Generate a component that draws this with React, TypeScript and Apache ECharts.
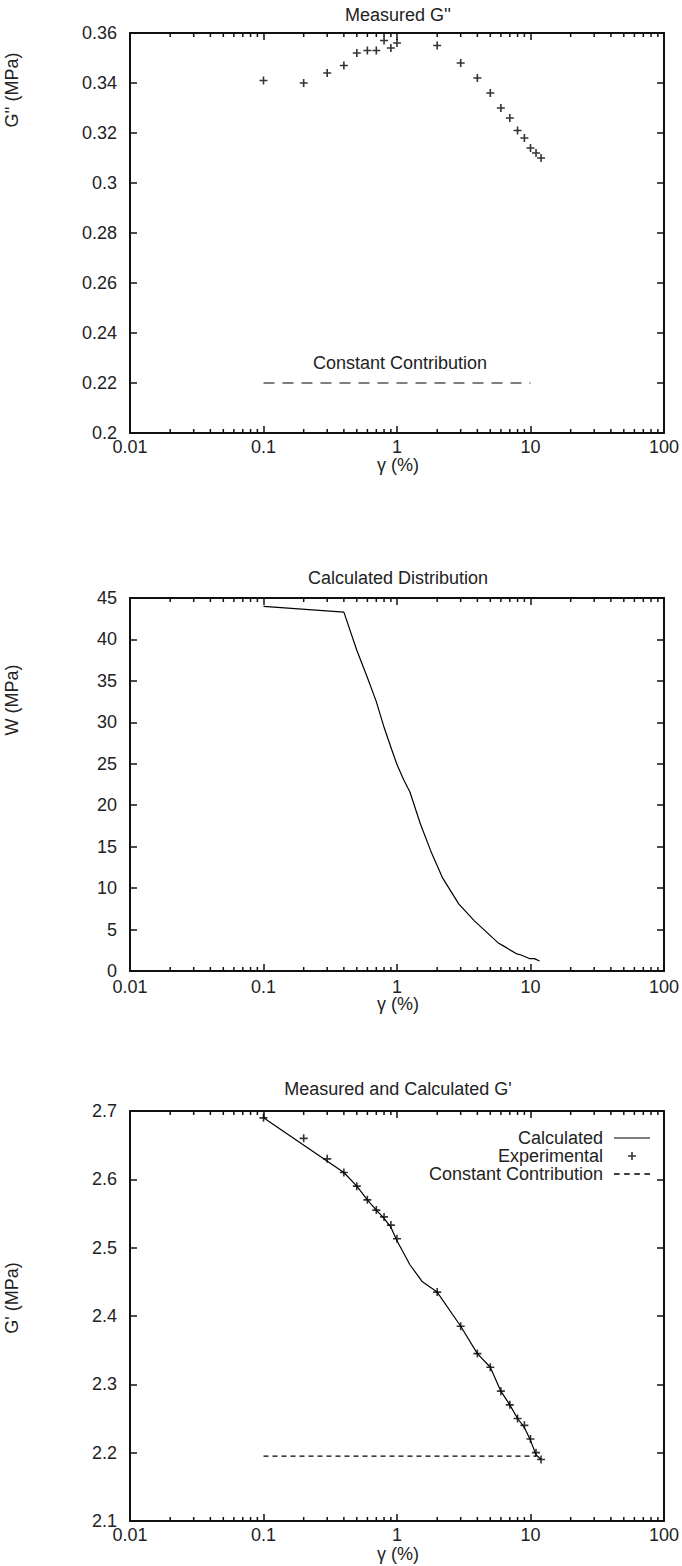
import React, { useEffect, useRef } from 'react';
import * as echarts from 'echarts';

// ---------- data ----------
const gppStrain = [0.1, 0.2, 0.3, 0.4, 0.5, 0.6, 0.7, 0.8, 0.9, 1, 2, 3, 4, 5, 6, 7, 8, 9, 10, 11, 12];
const gppMeasured = [0.341, 0.340, 0.344, 0.347, 0.352, 0.353, 0.353, 0.357, 0.354, 0.356, 0.355, 0.348, 0.342, 0.336, 0.330, 0.326, 0.321, 0.318, 0.314, 0.312, 0.310];
const gppConstStrain = [0.1, 10];
const gppConstValue = [0.22, 0.22];

const wStrain = [0.1, 0.4, 0.5, 0.6, 0.7, 0.8, 0.9, 1.0, 1.12, 1.25, 1.5, 1.8, 2.2, 2.9, 3.8, 5.7, 6.4, 7.8, 8.5, 9.8, 10.7, 11.7];
const wValues = [44.0, 43.3, 38.7, 35.4, 32.5, 29.4, 27.0, 24.9, 23.1, 21.6, 17.7, 14.4, 11.2, 8.1, 6.05, 3.42, 2.94, 2.1, 1.93, 1.5, 1.49, 1.21];

const gpStrainExp = [0.1, 0.2, 0.3, 0.4, 0.5, 0.6, 0.7, 0.8, 0.9, 1, 2, 3, 4, 5, 6, 7, 8, 9, 10, 11, 12];
const gpExperimental = [2.69, 2.66, 2.63, 2.61, 2.59, 2.57, 2.555, 2.545, 2.533, 2.513, 2.435, 2.385, 2.345, 2.325, 2.29, 2.27, 2.25, 2.24, 2.22, 2.20, 2.19];
const gpStrainCalc = [0.1, 0.4, 0.5, 0.6, 0.7, 0.8, 0.9, 1.0, 1.25, 1.55, 2, 3, 4, 5, 6, 7, 8, 9, 10, 11, 12];
const gpCalculated = [2.69, 2.61, 2.59, 2.57, 2.555, 2.543, 2.53, 2.51, 2.475, 2.45, 2.435, 2.385, 2.345, 2.325, 2.29, 2.27, 2.25, 2.237, 2.218, 2.197, 2.19];
const gpConstStrain = [0.1, 11];
const gpConstValue = [2.195, 2.195];

const minorTicks = [0.02, 0.03, 0.04, 0.05, 0.06, 0.07, 0.08, 0.09, 0.2, 0.3, 0.4, 0.5, 0.6, 0.7, 0.8, 0.9, 2, 3, 4, 5, 6, 7, 8, 9, 20, 30, 40, 50, 60, 70, 80, 90];

const titles = ["Measured G''", 'Calculated Distribution', "Measured and Calculated G'"];
const yNames = ["G'' (MPa)", 'W (MPa)', "G' (MPa)"];
const xName = 'γ (%)';
const legendNames = ['Calculated', 'Experimental', 'Constant Contribution'];
const yRanges = [
  { min: 0.2, max: 0.36, interval: 0.02 },
  { min: 0, max: 45, interval: 5 },
  { min: 2.1, max: 2.7, interval: 0.1 },
];

const FONT = 'Liberation Sans';
const TEXT = '#222';
const INK = '#111';

const zip = (a: number[], b: number[]) => a.map((v, i) => [v, b[i]]);

const plusPath = 'path://M0,4 H10 V6 H0 Z M4,0 H6 V10 H4 Z';
const solidIcon = 'path://M0,0 H36 V1.2 H0 Z';
const dashIcon = 'path://M0,0 H5 V1.2 H0 Z M9,0 H14 V1.2 H9 Z M18,0 H23 V1.2 H18 Z M27,0 H32 V1.2 H27 Z';

export default function App() {
  const ref = useRef<HTMLDivElement>(null);
  useEffect(() => {
    if (!ref.current) return;
    const chart = echarts.init(ref.current, undefined, { renderer: 'svg' });

    const grids = [
      { left: 130, top: 33, width: 537, height: 400 },
      { left: 130, top: 598, width: 537, height: 373 },
      { left: 130, top: 1111, width: 537, height: 410 },
    ];
    const xLabelMargins = [7, 9, 7];

    const xAxes: any[] = [];
    const yAxes: any[] = [];
    grids.forEach((_, gi) => {
      ['bottom', 'top'].forEach((pos) => {
        xAxes.push({
          type: 'log',
          logBase: 10,
          gridIndex: gi,
          position: pos,
          min: 0.01,
          max: 100,
          axisLine: { show: true, onZero: false, lineStyle: { color: INK, width: 2 } },
          axisTick: { show: true, inside: true, length: 7, lineStyle: { color: INK, width: 1.5 } },
          axisLabel: {
            show: pos === 'bottom',
            margin: xLabelMargins[gi],
            fontSize: 18,
            lineHeight: 14,
            fontFamily: FONT,
            color: TEXT,
            formatter: (v: number) => String(+Number(v).toPrecision(3)),
          },
          splitLine: { show: false },
          minorTick: { show: false },
        });
      });
      ['left', 'right'].forEach((pos) => {
        const r = yRanges[gi];
        yAxes.push({
          type: 'value',
          gridIndex: gi,
          position: pos,
          min: r.min,
          max: r.max,
          interval: r.interval,
          axisLine: { show: true, onZero: false, lineStyle: { color: INK, width: 2 } },
          axisTick: { show: true, inside: true, length: 7, lineStyle: { color: INK, width: 1.5 } },
          axisLabel: { show: pos === 'left', margin: 13, fontSize: 18, lineHeight: 14, fontFamily: FONT, color: TEXT },
          splitLine: { show: false },
        });
      });
    });

    const minorSeries = (gi: number) => ({
      type: 'custom',
      xAxisIndex: gi * 2,
      yAxisIndex: gi * 2,
      silent: true,
      clip: false,
      data: minorTicks.map((v) => [v, yRanges[gi].min]),
      renderItem: (params: any, api: any) => {
        const cs = params.coordSys;
        const x = api.coord([api.value(0), api.value(1)])[0];
        const yb = cs.y + cs.height;
        const yt = cs.y;
        const st = { stroke: INK, lineWidth: 1.5 };
        return {
          type: 'group',
          children: [
            { type: 'line', shape: { x1: x, y1: yb, x2: x, y2: yb - 4 }, style: st },
            { type: 'line', shape: { x1: x, y1: yt, x2: x, y2: yt + 4 }, style: st },
          ],
        };
      },
    });

    const textEl = (text: string, x: number, y: number, rot = 0) => ({
      type: 'text',
      x,
      y,
      rotation: rot,
      style: {
        text,
        fontSize: 18,
        lineHeight: 15,
        fontFamily: FONT,
        fill: TEXT,
        align: 'center',
        verticalAlign: 'middle',
        textAlign: 'center',
        textVerticalAlign: 'middle',
      },
    });

    const option: any = {
      animation: false,
      backgroundColor: '#fff',
      grid: grids,
      xAxis: xAxes,
      yAxis: yAxes,
      legend: {
        data: [
          { name: legendNames[0], icon: solidIcon },
          { name: legendNames[1] },
          { name: legendNames[2], icon: dashIcon },
        ],
        orient: 'vertical',
        right: 27,
        top: 1124,
        align: 'right',
        itemWidth: 36,
        itemHeight: 8,
        itemGap: 0,
        selectedMode: false,
        textStyle: { fontSize: 18, fontFamily: FONT, color: TEXT, lineHeight: 16.5, padding: [0, 6, 0, 0] },
      },
      graphic: [
        textEl(titles[0], 398, 15),
        textEl(titles[1], 398, 578),
        textEl(titles[2], 398, 1089),
        textEl(yNames[0], 12, 90, Math.PI / 2),
        textEl(yNames[1], 12, 700, Math.PI / 2),
        textEl(yNames[2], 12, 1298, Math.PI / 2),
        textEl(xName, 398, 465),
        textEl(xName, 398, 1004),
        textEl(xName, 398, 1554),
        textEl('Constant Contribution', 400, 363),
      ],
      series: [
        {
          name: 'Measured G2',
          type: 'scatter',
          xAxisIndex: 0,
          yAxisIndex: 0,
          data: zip(gppStrain, gppMeasured),
          symbol: plusPath,
          symbolSize: 8,
          itemStyle: { color: '#000' },
        },
        {
          name: 'G2 constant',
          type: 'line',
          xAxisIndex: 0,
          yAxisIndex: 0,
          data: zip(gppConstStrain, gppConstValue),
          symbol: 'none',
          lineStyle: { color: '#000', width: 1.2, type: [11, 8] },
        },
        minorSeries(0),
        {
          name: 'W',
          type: 'line',
          xAxisIndex: 2,
          yAxisIndex: 2,
          data: zip(wStrain, wValues),
          symbol: 'none',
          lineStyle: { color: '#000', width: 1.2 },
        },
        minorSeries(1),
        {
          name: legendNames[0],
          type: 'line',
          xAxisIndex: 4,
          yAxisIndex: 4,
          data: zip(gpStrainCalc, gpCalculated),
          symbol: 'none',
          lineStyle: { color: '#000', width: 1.2 },
          itemStyle: { color: '#000' },
        },
        {
          name: legendNames[1],
          type: 'scatter',
          xAxisIndex: 4,
          yAxisIndex: 4,
          data: zip(gpStrainExp, gpExperimental),
          symbol: plusPath,
          symbolSize: 8,
          itemStyle: { color: '#000' },
        },
        {
          name: legendNames[2],
          type: 'line',
          xAxisIndex: 4,
          yAxisIndex: 4,
          data: zip(gpConstStrain, gpConstValue),
          symbol: 'none',
          lineStyle: { color: '#000', width: 1.2, type: [5, 4] },
          itemStyle: { color: '#000' },
        },
        minorSeries(2),
      ],
    };
    chart.setOption(option);
    return () => chart.dispose();
  }, []);

  return (
    <div
      ref={ref}
      style={{ position: 'absolute', left: 0, top: 0, width: 682, height: 1566, background: '#fff' }}
    />
  );
}
